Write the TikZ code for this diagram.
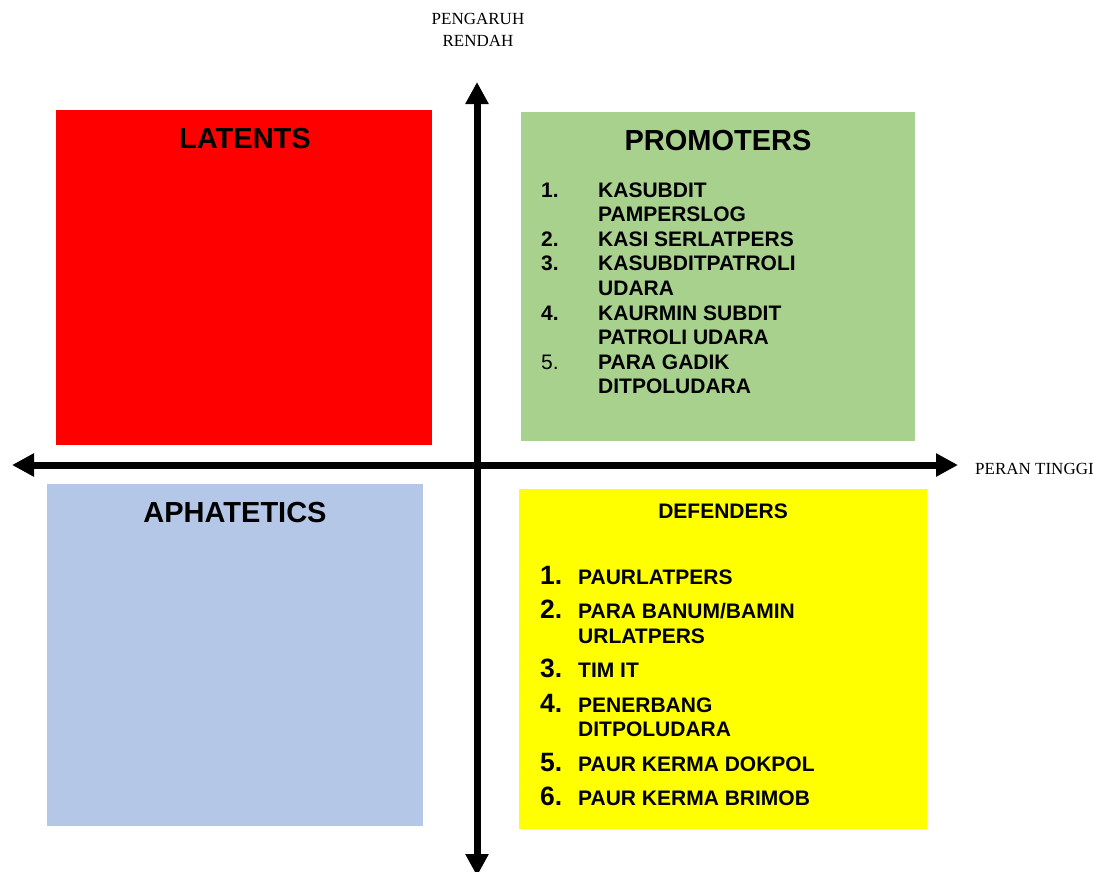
\documentclass[tikz,border=0pt]{standalone}
\usepackage{fontspec}
\setmainfont{Liberation Serif}
\newfontfamily\arialfont{Liberation Sans}
\usetikzlibrary{arrows.meta,positioning}
\definecolor{latred}{HTML}{FF0000}
\definecolor{promgreen}{HTML}{A9D18E}
\definecolor{aphblue}{HTML}{B4C7E7}
\definecolor{defyellow}{HTML}{FFFF00}
\newcommand{\dnum}[1]{\smash{\fontsize{26.5}{24.6}\selectfont #1}}

\begin{document}
\begin{tikzpicture}[
  x=1pt, y=-1pt,
  quad/.style  ={rectangle, inner sep=0pt, anchor=north west},
  qtitle/.style={font=\arialfont\bfseries\fontsize{29}{33}\selectfont, anchor=base, inner sep=0pt},
  qlist/.style ={font=\arialfont\bfseries\fontsize{21}{24.6}\selectfont, anchor=base west, inner sep=0pt},
  axislbl/.style={font=\fontsize{17}{22}\selectfont, inner sep=0pt},
  axisline/.style={line width=7pt, {Triangle[length=22pt,width=22pt]}-{Triangle[length=22pt,width=22pt]}}
]
\useasboundingbox (0,0) rectangle (1102,871);

% quadrants
\node[quad, fill=latred,    minimum width=376pt, minimum height=335pt] (latents) at (56,110) {};
\node[quad, fill=promgreen, minimum width=394pt, minimum height=329pt] (promoters) at (521,112) {};
\node[quad, fill=aphblue,   minimum width=376pt, minimum height=342pt] (aphatetics) at (47,484) {};
\node[quad, fill=defyellow, minimum width=408pt, minimum height=340pt] (defenders) at (519,489) {};

\node[qtitle] (lattitle)  at (245,148) {LATENTS};
\node[qtitle] (promtitle) at (718,150) {PROMOTERS};
\node[qtitle] (aphtitle)  at (235,522) {APHATETICS};
\node[qtitle, font=\arialfont\bfseries\fontsize{21}{24}\selectfont] (deftitle) at (723,518) {DEFENDERS};

\node[qlist] (promlist) at (541,197) {\begin{tabular}[t]{@{}p{57pt}@{}l@{}}
1. & KASUBDIT\\
   & PAMPERSLOG\\
2. & KASI SERLATPERS\\
3. & KASUBDITPATROLI\\
   & UDARA\\
4. & KAURMIN SUBDIT\\
   & PATROLI UDARA\\
{\mdseries 5.} & PARA GADIK\\
   & DITPOLUDARA
\end{tabular}};

\node[qlist] (deflist) at (540,584) {\begin{tabular}[t]{@{}p{38pt}@{}l@{}}
\dnum{1.} & PAURLATPERS\\[9.9pt]
\dnum{2.} & PARA BANUM/BAMIN\\
          & URLATPERS\\[9.9pt]
\dnum{3.} & TIM IT\\[9.9pt]
\dnum{4.} & PENERBANG\\
          & DITPOLUDARA\\[9.9pt]
\dnum{5.} & PAUR KERMA DOKPOL\\[9.9pt]
\dnum{6.} & PAUR KERMA BRIMOB
\end{tabular}};

% axes
\node[axislbl, align=center, anchor=north] (ylbl) at (478,13) {PENGARUH\\RENDAH};
\node[axislbl, anchor=base west] (xlbl) at (975,474) {PERAN TINGGI};

\coordinate (ytop)   at (477,82);
\coordinate (ybot)   at (477,876);
\coordinate (xleft)  at (12,465);
\coordinate (xright) at (958,465);
\draw[axisline] (ybot) -- (ytop);
\draw[axisline] (xleft) -- (xright);
\end{tikzpicture}
\end{document}
